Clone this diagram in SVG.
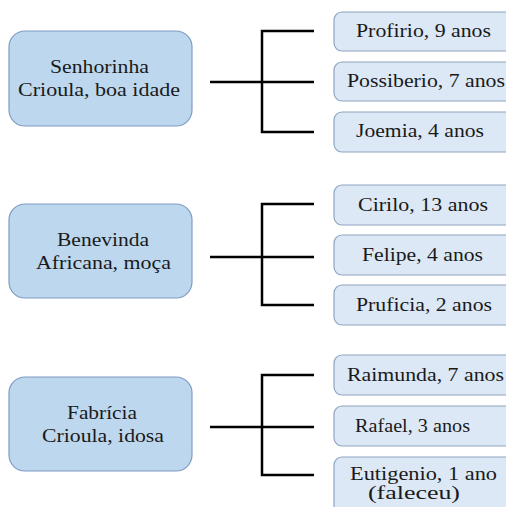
<svg xmlns="http://www.w3.org/2000/svg" width="506" height="507" viewBox="0 0 506 507">
<style>
.parent{fill:#bdd7ee;stroke:#7f9cc4;stroke-width:1.2}
.child{fill:#dce8f5;stroke:#8ea4bf;stroke-width:1.2}
.pt{font-size:19px;fill:#1a1a1a}
.ct{font-size:18px;fill:#1a1a1a}
.conn{fill:none;stroke:#000;stroke-width:2.5}
</style>
<rect width="506" height="507" fill="#fff"/>
<g id="connectors">
<path class="conn" d="M210,82 H262 M314,31 H262 V132 H314 M262,82 H314"/>
<path class="conn" d="M210,257 H262 M314,204 H262 V305 H314 M262,257 H314"/>
<path class="conn" d="M210,427 H262 M314,375 H262 V475 H314 M262,427 H314"/>
</g>
<g font-family="Liberation Serif, DejaVu Serif, serif">
<g id="senhorinha">
<rect class="parent" x="9" y="31" width="183" height="95" rx="16"/>
<text class="pt" x="50" y="73" textLength="99" lengthAdjust="spacingAndGlyphs">Senhorinha</text>
<text class="pt" x="18" y="96" textLength="162" lengthAdjust="spacingAndGlyphs">Crioula, boa idade</text>
</g>
<g id="profirio">
<rect class="child" x="334" y="12" width="190" height="39" rx="8"/>
<text class="ct" x="356" y="37" textLength="135" lengthAdjust="spacingAndGlyphs">Profirio, 9 anos</text>
</g>
<g id="possiberio">
<rect class="child" x="334" y="62" width="190" height="39" rx="8"/>
<text class="ct" x="347" y="87" textLength="158" lengthAdjust="spacingAndGlyphs">Possiberio, 7 anos</text>
</g>
<g id="joemia">
<rect class="child" x="334" y="112" width="190" height="40" rx="8"/>
<text class="ct" x="356" y="137" textLength="128" lengthAdjust="spacingAndGlyphs">Joemia, 4 anos</text>
</g>
<g id="benevinda">
<rect class="parent" x="9" y="204" width="183" height="94" rx="16"/>
<text class="pt" x="57" y="246" textLength="92" lengthAdjust="spacingAndGlyphs">Benevinda</text>
<text class="pt" x="36" y="269" textLength="135" lengthAdjust="spacingAndGlyphs">Africana, moça</text>
</g>
<g id="cirilo">
<rect class="child" x="334" y="185" width="190" height="40" rx="8"/>
<text class="ct" x="358" y="211" textLength="130" lengthAdjust="spacingAndGlyphs">Cirilo, 13 anos</text>
</g>
<g id="felipe">
<rect class="child" x="334" y="235" width="190" height="40" rx="8"/>
<text class="ct" x="362" y="261" textLength="121" lengthAdjust="spacingAndGlyphs">Felipe, 4 anos</text>
</g>
<g id="pruficia">
<rect class="child" x="334" y="285" width="190" height="40" rx="8"/>
<text class="ct" x="356" y="311" textLength="136" lengthAdjust="spacingAndGlyphs">Pruficia, 2 anos</text>
</g>
<g id="fabricia">
<rect class="parent" x="9" y="377" width="183" height="94" rx="16"/>
<text class="pt" x="67" y="419" textLength="70" lengthAdjust="spacingAndGlyphs">Fabrícia</text>
<text class="pt" x="42" y="442" textLength="122" lengthAdjust="spacingAndGlyphs">Crioula, idosa</text>
</g>
<g id="raimunda">
<rect class="child" x="334" y="355" width="190" height="40" rx="8"/>
<text class="ct" x="347" y="381" textLength="157" lengthAdjust="spacingAndGlyphs">Raimunda, 7 anos</text>
</g>
<g id="rafael">
<rect class="child" x="334" y="406" width="190" height="40" rx="8"/>
<text class="ct" x="355" y="432" textLength="115" lengthAdjust="spacingAndGlyphs">Rafael, 3 anos</text>
</g>
<g id="eutigenio">
<rect class="child" x="334" y="457" width="190" height="60" rx="8"/>
<text class="ct" x="350" y="480" textLength="147" lengthAdjust="spacingAndGlyphs">Eutigenio, 1 ano</text>
<text class="ct" x="368" y="499" textLength="92" lengthAdjust="spacingAndGlyphs">(faleceu)</text>
</g>
</g>
</svg>
